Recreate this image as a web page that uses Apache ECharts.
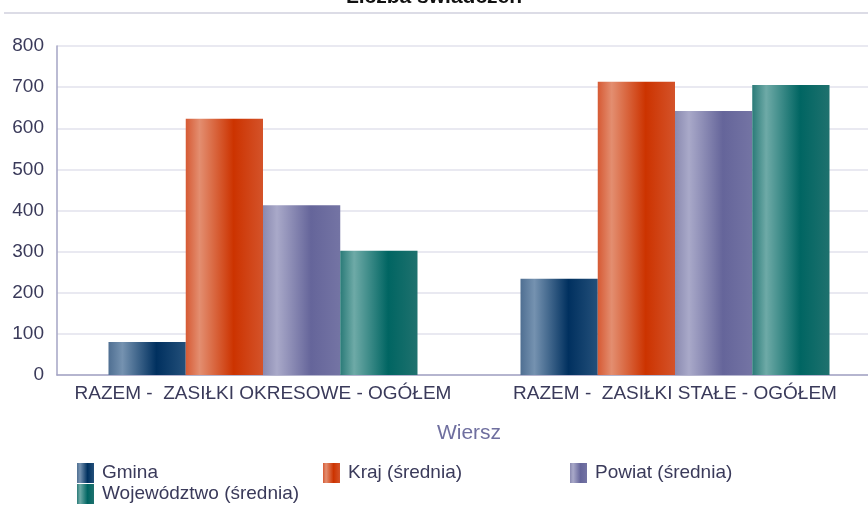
<!DOCTYPE html>
<html>
<head>
<meta charset="utf-8">
<script src="https://cdn.jsdelivr.net/npm/echarts@6/dist/echarts.min.js"></script>
<style>
  html, body { margin: 0; padding: 0; background: #ffffff; }
  #chart { width: 868px; height: 507px; }
</style>
</head>
<body>
<div id="chart"></div>
<script>
// Categories and series values
const categories = ['RAZEM -  ZASIŁKI OKRESOWE - OGÓŁEM', 'RAZEM -  ZASIŁKI STAŁE - OGÓŁEM'];
const seriesNames = ['Gmina', 'Kraj (średnia)', 'Powiat (średnia)', 'Województwo (średnia)'];
const gmina = [80, 234];
const kraj = [623, 713];
const powiat = [413, 642];
const wojewodztwo = [302, 705];
const yTicks = [0, 100, 200, 300, 400, 500, 600, 700, 800];

// Cylinder-like horizontal shading per series: [edge, highlight, core, right edge]
const shades = [
  ['#4f6f92', '#7592b0', '#00305f', '#24507a'],
  ['#d65a34', '#e38e70', '#cc3300', '#d4532a'],
  ['#8a8ab0', '#a9a9c9', '#65659a', '#7474a4'],
  ['#2a7b78', '#6eaaa7', '#006562', '#1f716e']
];

function shade(c) {
  return new echarts.graphic.LinearGradient(0, 0, 1, 0, [
    { offset: 0, color: c[0] },
    { offset: 0.18, color: c[1] },
    { offset: 0.62, color: c[2] },
    { offset: 1, color: c[3] }
  ]);
}

const values = [gmina, kraj, powiat, wojewodztwo];
const labelColor = '#3a3a5a';
const font = '"Liberation Sans", Arial, sans-serif';

const legendPos = [
  { left: 77, top: 463 },
  { left: 323, top: 463 },
  { left: 570, top: 463 },
  { left: 77, top: 484 }
];

const chart = echarts.init(document.getElementById('chart'), null, { renderer: 'canvas' });
chart.setOption({
  animation: false,
  backgroundColor: '#ffffff',
  title: {
    text: 'Liczba świadczeń',
    left: 'center',
    top: -18,
    textStyle: { fontFamily: font, fontSize: 21, fontWeight: 'bold', color: '#111111' }
  },
  graphic: [{
    type: 'rect',
    shape: { x: 4, y: 12, width: 864, height: 2 },
    style: { fill: '#dcdce6' }
  }],
  legend: legendPos.map((p, i) => ({
    data: [seriesNames[i]],
    left: p.left,
    top: p.top,
    itemWidth: 17,
    itemHeight: 20,
    itemGap: 0,
    padding: 0,
    icon: 'rect',
    textStyle: { fontFamily: font, fontSize: 19, color: labelColor, padding: [0, 0, 0, 3] }
  })),
  // the plot area runs past the right edge of the canvas
  grid: { left: 57, width: 824, top: 46, bottom: 132, containLabel: false, outerBoundsMode: 'none' },
  xAxis: {
    type: 'category',
    data: categories,
    name: 'Wiersz',
    nameLocation: 'middle',
    nameGap: 48,
    nameTextStyle: { fontFamily: font, fontSize: 21, color: '#6f6f9f' },
    axisLine: { lineStyle: { color: '#a4a4c4', width: 1.5 } },
    axisTick: { show: false },
    axisLabel: { fontFamily: font, fontSize: 19, color: labelColor, margin: 9, interval: 0 }
  },
  yAxis: {
    type: 'value',
    min: yTicks[0],
    max: yTicks[yTicks.length - 1],
    interval: 100,
    axisLine: { show: true, lineStyle: { color: '#a4a4c4', width: 1.5 } },
    axisTick: { show: false },
    axisLabel: { fontFamily: font, fontSize: 19, color: labelColor, margin: 13 },
    splitLine: { lineStyle: { color: '#e2e2ec', width: 1.5 } }
  },
  series: seriesNames.map((name, i) => ({
    name: name,
    type: 'bar',
    data: values[i],
    barGap: '0%',
    barCategoryGap: '25%',
    itemStyle: { color: shade(shades[i]) }
  }))
});
</script>
</body>
</html>
